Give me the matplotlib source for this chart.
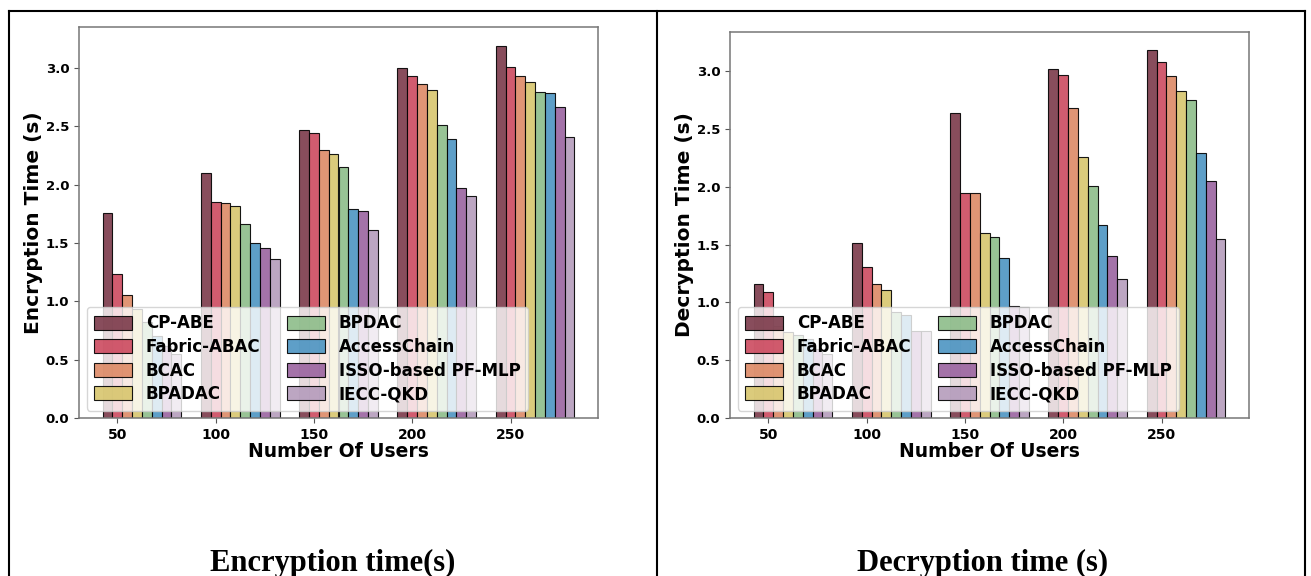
import numpy as np
import matplotlib
matplotlib.use("Agg")
import matplotlib.pyplot as plt
from matplotlib.lines import Line2D

# data
users = [50, 100, 150, 200, 250]
methods = ["CP-ABE", "Fabric-ABAC", "BCAC", "BPADAC",
           "BPDAC", "AccessChain", "ISSO-based PF-MLP", "IECC-QKD"]
colors = ["#7b3a4a", "#cc4a5f", "#dd8a66", "#d8c66e",
          "#8dbd8a", "#4c95c2", "#9a64a0", "#b59cbc"]

enc_cp_abe = [1.76, 2.10, 2.47, 3.00, 3.19]
enc_fabric = [1.23, 1.85, 2.44, 2.93, 3.01]
enc_bcac = [1.05, 1.84, 2.30, 2.86, 2.93]
enc_bpadac = [0.93, 1.82, 2.26, 2.81, 2.88]
enc_bpdac = [0.82, 1.66, 2.15, 2.51, 2.79]
enc_accesschain = [0.70, 1.50, 1.79, 2.39, 2.78]
enc_isso = [0.62, 1.46, 1.77, 1.97, 2.66]
enc_iecc = [0.55, 1.36, 1.61, 1.90, 2.41]

dec_cp_abe = [1.16, 1.51, 2.64, 3.02, 3.18]
dec_fabric = [1.09, 1.31, 1.95, 2.97, 3.08]
dec_bcac = [0.80, 1.16, 1.95, 2.68, 2.96]
dec_bpadac = [0.74, 1.11, 1.60, 2.26, 2.83]
dec_bpdac = [0.72, 0.92, 1.57, 2.01, 2.75]
dec_accesschain = [0.68, 0.89, 1.38, 1.67, 2.29]
dec_isso = [0.60, 0.75, 0.97, 1.40, 2.05]
dec_iecc = [0.55, 0.75, 0.96, 1.20, 1.55]

enc_data = [enc_cp_abe, enc_fabric, enc_bcac, enc_bpadac,
            enc_bpdac, enc_accesschain, enc_isso, enc_iecc]
dec_data = [dec_cp_abe, dec_fabric, dec_bcac, dec_bpadac,
            dec_bpdac, dec_accesschain, dec_isso, dec_iecc]


def draw_panel(ax, data, ylabel):
    x = np.arange(len(users))
    w = 0.1
    for i, vals in enumerate(data):
        ax.bar(x + i * w, vals, w, color=colors[i], edgecolor="black",
               linewidth=0.8, alpha=0.9, label=methods[i])
    ax.set_xticks(x + w)
    ax.set_xticklabels(users, fontweight="bold", fontsize=10)
    for t in ax.get_yticklabels():
        t.set_fontweight("bold")
        t.set_fontsize(9.5)
    ax.set_xlabel("Number Of Users", fontweight="bold", fontsize=13.5, labelpad=0)
    ax.set_ylabel(ylabel, fontweight="bold", fontsize=14.5, labelpad=2)
    for s in ax.spines.values():
        s.set_color("#777777")
        s.set_linewidth(1.1)
    ax.tick_params(colors="#555555", labelcolor="black")
    ax.legend(loc="lower left", ncol=2, prop={"weight": "bold", "size": 12},
              labelspacing=0.33, handlelength=2.3, handleheight=0.95,
              columnspacing=1.6, borderaxespad=0.45, borderpad=0.45,
              fancybox=True)


fig = plt.figure(figsize=(13.11, 5.76), dpi=100)

ax1 = fig.add_axes([79 / 1311, 1 - 418 / 576, 519 / 1311, 391 / 576])
draw_panel(ax1, enc_data, "Encryption Time (s)")

ax2 = fig.add_axes([730 / 1311, 1 - 418 / 576, 519 / 1311, 386 / 576])
draw_panel(ax2, dec_data, "Decryption Time (s)")

# table borders around the two figures
for xs, ys in [([9, 9], [11, 576]), ([1305, 1305], [11, 576]),
               ([657, 657], [11, 576]), ([9, 1305], [11, 11])]:
    fig.add_artist(Line2D([v / 1311 for v in xs], [1 - v / 576 for v in ys],
                          color="black", linewidth=1.5))

fig.text(333 / 1311, 1 - 563 / 576, "Encryption time(s)", ha="center", va="center",
         fontsize=22, fontweight="bold", family="Liberation Serif")
fig.text(983 / 1311, 1 - 563 / 576, "Decryption time (s)", ha="center", va="center",
         fontsize=22, fontweight="bold", family="Liberation Serif")

fig.savefig("out.png", dpi=100)
